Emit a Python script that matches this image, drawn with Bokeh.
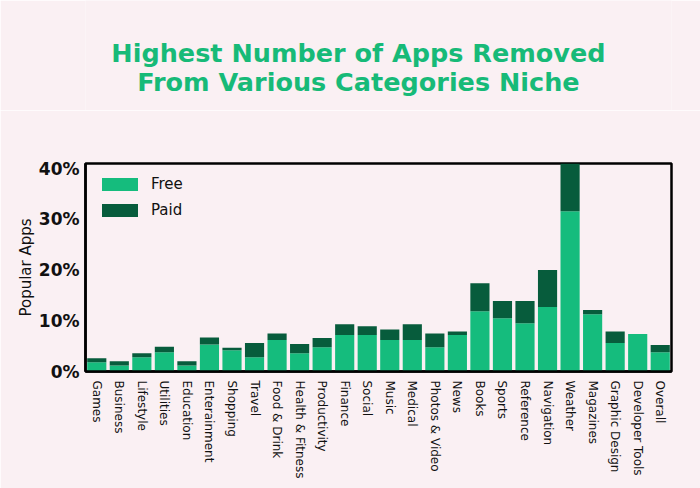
from bokeh.plotting import figure
from bokeh.layouts import column
from bokeh.models import Legend, LegendItem, NumeralTickFormatter, FixedTicker
from bokeh.core.properties import value
from bokeh.embed import file_html
from bokeh.resources import INLINE

categories = ["Games", "Business", "Lifestyle", "Utilities", "Education", "Enterainment",
              "Shopping", "Travel", "Food & Drink", "Health & Fitness", "Productivity",
              "Finance", "Social", "Music", "Medical", "Photos & Video", "News", "Books",
              "Sports", "Reference", "Navigation", "Weather", "Magazines", "Graphic Design",
              "Developer Tools", "Overall"]
free = [1.8, 1.2, 2.8, 3.8, 1.2, 5.3, 4.2, 2.8, 6.2, 3.6, 4.8, 7.2, 7.2, 6.2, 6.2, 4.8,
        7.2, 11.9, 10.5, 9.5, 12.7, 31.6, 11.3, 5.6, 7.4, 3.8]
paid = [0.8, 0.8, 0.8, 1.1, 0.8, 1.4, 0.5, 2.8, 1.3, 1.8, 1.8, 2.1, 1.7, 2.1, 3.1, 2.7,
        0.7, 5.5, 3.4, 4.4, 7.3, 9.6, 0.8, 2.3, 0.0, 1.4]
y_ticks = [0, 10, 20, 30, 40]

title_lines = ["Highest Number of Apps Removed", "From Various Categories Niche"]

FONT = "DejaVu Sans"
BG = "#FAF0F3"
FREE_C = "#15BC7D"
PAID_C = "#075C3C"
TITLE_C = "#17BA78"

# ---- title strip ----
t = figure(width=700, height=110, x_range=(0, 700), y_range=(0, 110),
           x_axis_type=None, y_axis_type=None,
           output_backend="svg", toolbar_location=None,
           min_border=0, min_border_left=0, min_border_right=0,
           min_border_top=0, min_border_bottom=0)
t.grid.visible = False
t.outline_line_color = None
t.background_fill_color = BG
t.border_fill_color = BG
t.text(x=[326, 326], y=[57.5, 28.5], text=title_lines,
       text_align="center", text_baseline="middle",
       text_font=value(FONT), text_font_size="25.5px", text_font_style="bold",
       text_color=TITLE_C)

# ---- main chart ----
p = figure(x_range=categories, y_range=(0, 41), width=700, height=378,
           output_backend="svg", toolbar_location=None,
           min_border_left=85, min_border_right=29, min_border_top=53, min_border_bottom=117)
p.background_fill_color = BG
p.border_fill_color = BG
p.outline_line_color = "black"
p.outline_line_width = 2.5
p.grid.visible = False

data = dict(cat=categories, Free=free, Paid=paid)
r = p.vbar_stack(["Free", "Paid"], x="cat", width=0.85, color=[FREE_C, PAID_C],
                 line_color=None, source=data)

legend = Legend(items=[LegendItem(label="Free", renderers=[r[0]]),
                       LegendItem(label="Paid", renderers=[r[1]])],
                location="top_left")
legend.background_fill_alpha = 0
legend.border_line_color = None
legend.glyph_width = 45
legend.glyph_height = 16
legend.label_height = 16
legend.spacing = 8
legend.label_standoff = 9
legend.margin = 12
legend.padding = 10
legend.label_text_font = FONT
legend.label_text_font_size = "15px"
legend.label_text_color = "#111111"
p.add_layout(legend)

p.yaxis.ticker = FixedTicker(ticks=y_ticks)
p.yaxis.formatter = NumeralTickFormatter(format="0")
p.yaxis.major_label_overrides = {tk: f"{tk}%" for tk in y_ticks}
p.yaxis.major_label_text_font = FONT
p.yaxis.major_label_text_font_size = "17px"
p.yaxis.major_label_text_font_style = "bold"
p.yaxis.major_label_text_color = "#111111"
p.yaxis.major_tick_line_color = None
p.yaxis.minor_tick_line_color = None
p.yaxis.major_label_standoff = 0
p.yaxis.axis_line_width = 2.5
p.yaxis.axis_label = "Popular Apps"
p.yaxis.axis_label_text_font = FONT
p.yaxis.axis_label_text_font_size = "15px"
p.yaxis.axis_label_text_font_style = "normal"
p.yaxis.axis_label_text_color = "#111111"
p.yaxis.axis_label_standoff = 1

p.xaxis.major_label_orientation = "vertical"
p.xaxis.major_label_text_font = FONT
p.xaxis.major_label_text_font_size = "12px"
p.xaxis.major_label_text_color = "#111111"
p.xaxis.major_tick_line_color = None
p.xaxis.minor_tick_line_color = None
p.xaxis.major_label_standoff = 3
p.xaxis.axis_line_width = 2.5

layout = column(t, p, spacing=0)
open("out.html", "w").write(file_html(layout, INLINE))
